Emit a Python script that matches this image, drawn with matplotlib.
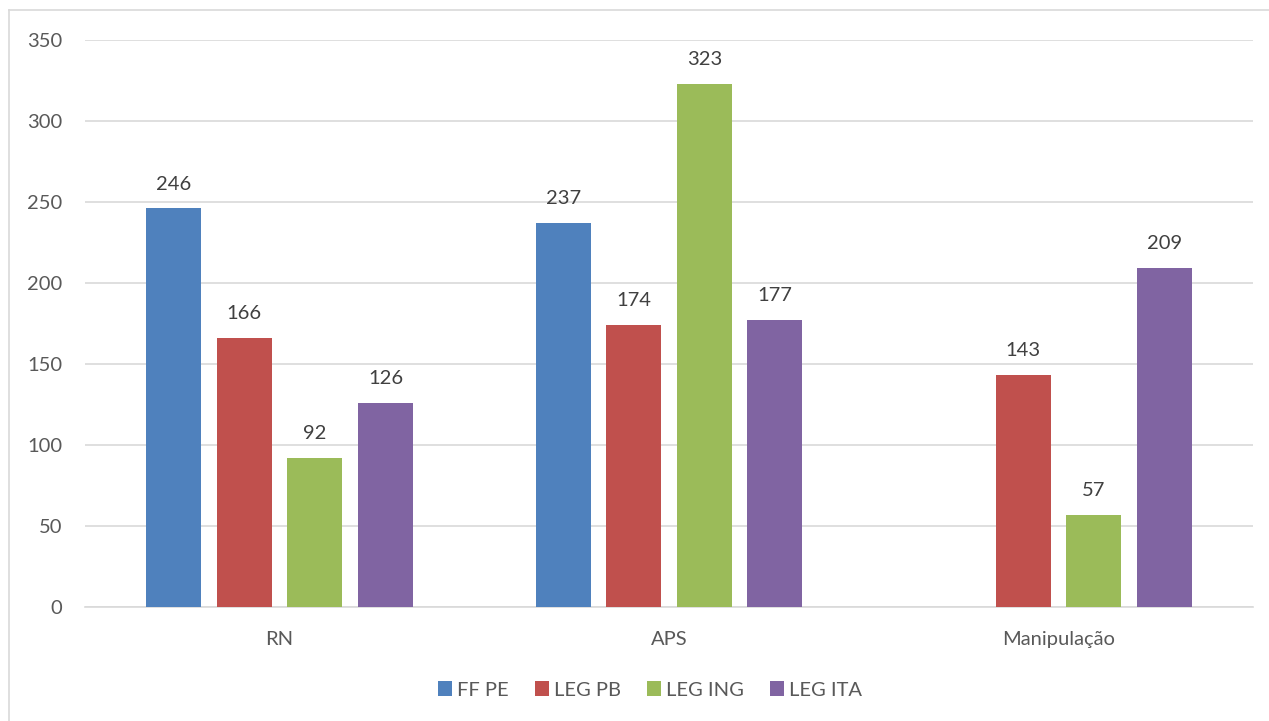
import numpy as np
import matplotlib.pyplot as plt
from matplotlib.lines import Line2D
from matplotlib.patches import Patch

categories = ['RN', 'APS', 'Manipulação']
series = ['FF PE', 'LEG PB', 'LEG ING', 'LEG ITA']
ff_pe = [246, 237, np.nan]
leg_pb = [166, 174, 143]
leg_ing = [92, 323, 57]
leg_ita = [126, 177, 209]
colors = ['#4F81BD', '#C0504D', '#9BBB59', '#8064A2']

plt.rcParams['font.family'] = ['Lato', 'DejaVu Sans']
fs = 14.5

fig = plt.figure(figsize=(12.69, 7.21), dpi=100)
ax = fig.add_axes([85 / 1269, 1 - 607 / 721, 1168 / 1269, 567 / 721])

x = np.arange(len(categories))
step = 70.5 / 389.3
width = 55 / 389.3
for i, (vals, c) in enumerate(zip([ff_pe, leg_pb, leg_ing, leg_ita], colors)):
    pos = x + (i - 1.5) * step
    ax.bar(pos, vals, width=width, color=c, zorder=3)
    for p, v in zip(pos, vals):
        if np.isnan(v):
            continue
        ax.annotate(f'{v:.0f}', (p, v), xytext=(0, 11.5), textcoords='offset points',
                    ha='center', va='bottom', fontsize=fs, color='#404040')

ax.set_xlim(-0.5, 2.5)
ax.set_ylim(0, 350)
ax.set_yticks(np.arange(0, 351, 50))
ax.set_xticks(x)
ax.set_xticklabels(categories)
ax.tick_params(axis='both', length=0, labelsize=fs, colors='#595959')
ax.tick_params(axis='y', pad=16.5)
ax.tick_params(axis='x', pad=17)
ax.yaxis.grid(True, color='#D9D9D9', linewidth=1.2, zorder=0)
for s in ['top', 'right', 'left']:
    ax.spines[s].set_visible(False)
ax.spines['bottom'].set_color('#D9D9D9')
ax.spines['bottom'].set_linewidth(1.2)

handles = [Patch(facecolor=c, label=s) for s, c in zip(series, colors)]
fig.legend(handles=handles, loc='center', bbox_to_anchor=(650 / 1269, 1 - 690 / 721),
           ncol=4, frameon=False, fontsize=fs, labelcolor='#595959',
           handlelength=0.7, handleheight=0.7, handletextpad=0.25, columnspacing=1.3)

# chart frame
fig.add_artist(Line2D([9 / 1269, 9 / 1269], [0, 1 - 10 / 721], color='#D9D9D9', lw=1.2))
fig.add_artist(Line2D([9 / 1269, 1], [1 - 10 / 721, 1 - 10 / 721], color='#D9D9D9', lw=1.2))

fig.savefig('out.png', dpi=100)
